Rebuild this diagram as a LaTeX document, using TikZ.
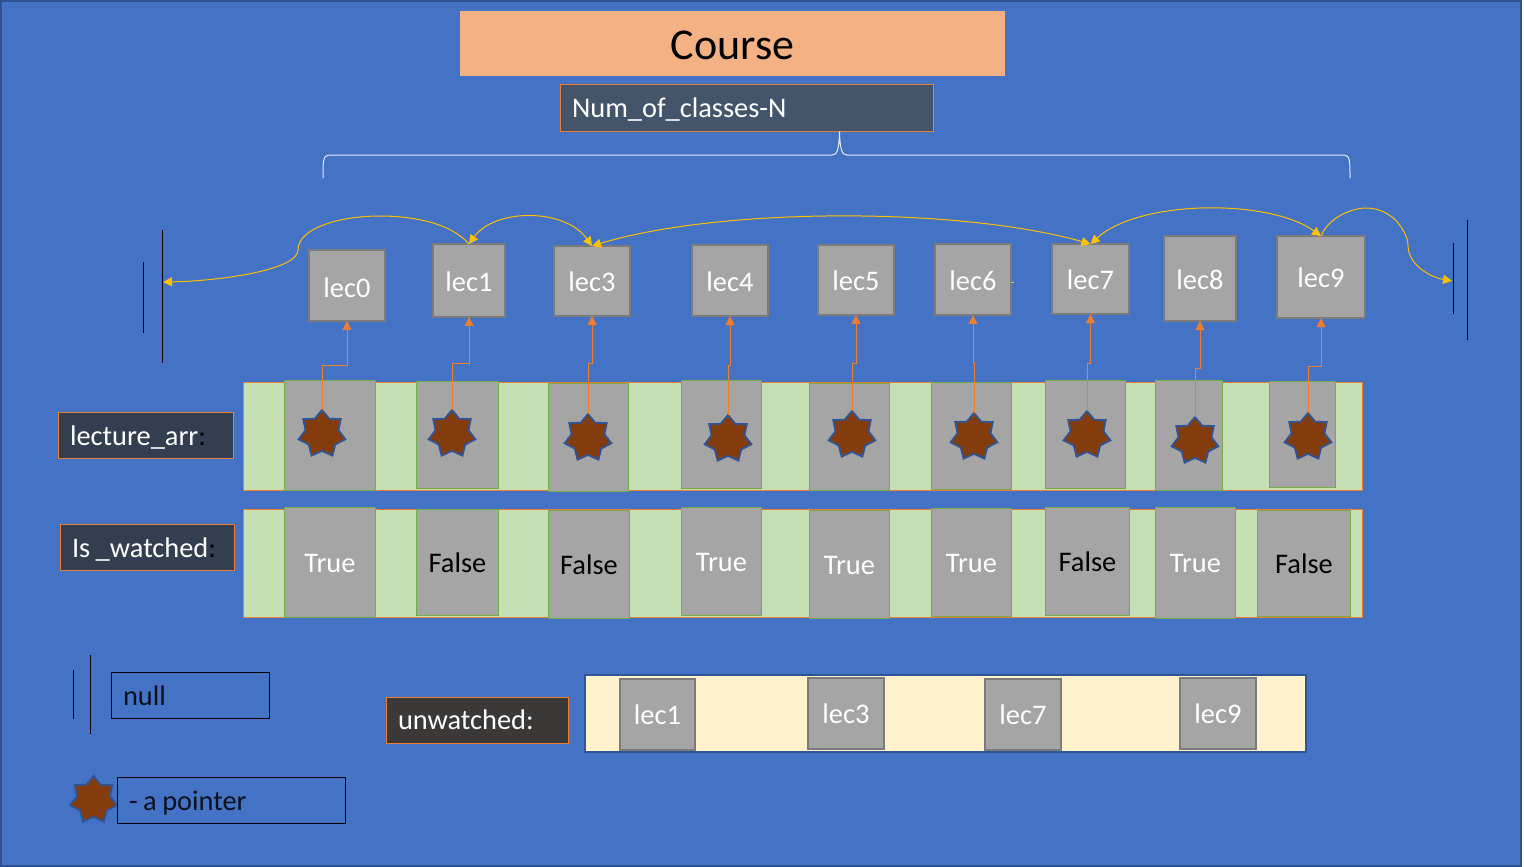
\documentclass[tikz,border=0pt]{standalone}
\usepackage{fontspec}
\setmainfont{Carlito}
\usetikzlibrary{arrows.meta,shapes.geometric}
\definecolor{bgblue}{HTML}{4472C4}
\definecolor{frameblue}{HTML}{2F528F}
\definecolor{starblue}{HTML}{2F5597}
\definecolor{peach}{HTML}{F4B183}
\definecolor{slatebox}{HTML}{44546A}
\definecolor{navybox}{HTML}{333F50}
\definecolor{charcoal}{HTML}{3B3838}
\definecolor{orangeline}{HTML}{ED7D31}
\definecolor{goldline}{HTML}{FFC000}
\definecolor{greenline}{HTML}{70AD47}
\definecolor{lightgreen}{HTML}{C5E0B4}
\definecolor{midgray}{HTML}{A5A5A5}
\definecolor{graybord}{HTML}{7B7B7B}
\definecolor{cream}{HTML}{FFF2CC}
\definecolor{starbrown}{HTML}{843C0C}
\definecolor{bracewhite}{HTML}{E7ECF5}
\newcommand{\tightsp}{\spaceskip=5.5pt\relax}
\newcommand{\rc}[7]{%
  \pgfmathsetmacro\rcW{#3-#2}\pgfmathsetmacro\rcH{#5-#4}%
  \pgfmathsetmacro\rcX{(#3+#2)/2}\pgfmathsetmacro\rcY{(#5+#4)/2}%
  \node[#6,minimum width=\rcW pt,minimum height=\rcH pt] (#1) at (\rcX,\rcY) {#7};}
\newcommand{\rcl}[7]{%
  \pgfmathsetmacro\rcW{#3-#2}\pgfmathsetmacro\rcH{#5-#4}%
  \pgfmathsetmacro\rcX{(#3+#2)/2}\pgfmathsetmacro\rcY{(#5+#4)/2}%
  \pgfmathsetmacro\rcT{#3-#2-23}%
  \node[#6,minimum width=\rcW pt,minimum height=\rcH pt,text width=\rcT pt,align=left,inner xsep=11.5pt] (#1) at (\rcX,\rcY) {#7};}
\tikzset{
  every node/.style={inner sep=0pt,outer sep=0pt,font=\fontsize{28.4}{30}\selectfont,text height=21pt,text depth=2pt},
  lecbox/.style={draw=graybord,line width=2pt,fill=midgray,text=white,text height=23pt},
  crisp/.style={xshift=0.5pt,yshift=-0.5pt},
  cell/.style={crisp,draw=greenline,line width=1pt,fill=midgray},
  band/.style={crisp,draw=orangeline,line width=1pt,fill=lightgreen},
  tag/.style={crisp,draw=orangeline,line width=1pt,text=white},
  legend/.style={crisp,draw=black,line width=1pt,text=black!85!bgblue},
  ptrstar/.style={star,star points=7,star point ratio=1.42,minimum size=48pt,text height=0pt,text depth=0pt,fill=starbrown,draw=starblue,line width=1.8pt},
  ptr/.style={draw=orangeline,line width=0.9pt,-{Triangle[length=9pt,width=9pt,fill=orangeline]}},
  nextp/.style={draw=goldline,line width=1pt,-{Triangle[length=9pt,width=9pt,fill=goldline]}},
  both/.style={draw=goldline,line width=1pt,{Triangle[length=9pt,width=9pt,fill=goldline]}-{Triangle[length=9pt,width=9pt,fill=goldline]}},
  nullbar/.style={draw=black,line width=1pt},
  brace/.style={draw=bracewhite,line width=1pt}
}
\begin{document}
\begin{tikzpicture}[x=1pt,y=-1pt]
\useasboundingbox (0,0) rectangle (1524,867);
\fill[white] (0,0) rectangle (1524,867);
\draw[fill=bgblue,draw=frameblue,line width=2pt] (1,1) rectangle (1521,866);
% title
\rc{course}{460}{1005}{11}{76}{fill=peach,text=black,font=\fontsize{44}{46}\selectfont,text height=34pt,text depth=2pt}{Course}
\rcl{num}{560}{933}{84}{131}{tag,fill=slatebox}{Num\_of\_classes-N}
% brace
\coordinate (bl) at (323,178);
\coordinate (br) at (1350,178);
\draw[brace] (bl) .. controls (323,162) and (323,155) .. (329,155) -- (832,155) .. controls (837,155) and (839,150) .. (num.south -| 839.5,0) .. controls (840,150) and (842,155) .. (847,155) -- (1344,155) .. controls (1350,155) and (1350,162) .. (br);
% lecture nodes
\rc{l0}{309}{385}{250}{321}{lecbox,text height=25pt}{lec0}
\rc{l1}{433}{505}{244}{317}{lecbox}{lec1}
\rc{l3}{554}{630}{246}{316}{lecbox}{lec3}
\rc{l4}{692}{768}{245}{316}{lecbox}{lec4}
\rc{l5}{818}{894}{245}{315}{lecbox}{lec5}
\rc{l6}{935}{1011}{244}{315}{lecbox}{lec6}
\rc{l7}{1052}{1129}{244}{314}{lecbox}{lec7}
\rc{l8}{1164}{1236}{236}{321}{lecbox}{lec8}
\rc{l9}{1277}{1365}{236}{318}{lecbox}{lec9}
% null bars
\coordinate (nla) at (162.5,230); \coordinate (nlb) at (162.5,363);
\coordinate (nlc) at (143.5,262); \coordinate (nld) at (143.5,333);
\coordinate (nra) at (1467.5,220); \coordinate (nrb) at (1467.5,340);
\coordinate (nrc) at (1453.5,243); \coordinate (nrd) at (1453.5,314);
\draw[nullbar] (nla) -- (nlb);
\draw[nullbar] (nlc) -- (nld);
\draw[nullbar] (nra) -- (nrb);
\draw[nullbar] (nrc) -- (nrd);
\coordinate (endl) at (163,282);
\coordinate (endr) at (1452,281);
% bands
\rc{band1}{243}{1362}{382}{490}{band}{}
\rc{band2}{243}{1362}{509}{617}{band}{}
% first row cells
\rc{a0}{284}{375}{380}{490}{cell}{}
\rc{a1}{416}{498}{381}{488}{cell}{}
\rc{a2}{548}{628}{383}{491}{cell}{}
\rc{a3}{681}{761}{380}{488}{cell}{}
\rc{a4}{809}{889}{383}{490}{cell}{}
\rc{a5}{931}{1011}{382}{489}{cell}{}
\rc{a6}{1045}{1125}{380}{488}{cell}{}
\rc{a7}{1155}{1222}{380}{490}{cell}{}
\rc{a8}{1269}{1335}{381}{487}{cell}{}
% second row cells
\rc{b0}{284}{375}{507}{617}{cell,text=white}{True}
\rc{b1}{416}{498}{509}{615}{cell,text=black}{False}
\rc{b2}{548}{629}{510}{618}{cell,text=black}{False}
\rc{b3}{681}{761}{507}{615}{cell,text=white}{True}
\rc{b4}{809}{889}{510}{618}{cell,text=white}{True}
\rc{b5}{931}{1011}{508}{616}{cell,text=white}{True}
\rc{b6}{1045}{1129}{507}{615}{cell,text=black}{False}
\rc{b7}{1155}{1235}{507}{618}{cell,text=white}{True}
\rc{b8}{1257}{1350}{510}{616}{cell,text=black}{False}
% stars
\node[ptrstar] (s0) at (322,434) {};
\node[ptrstar] (s1) at (452,434) {};
\node[ptrstar] (s2) at (588,438) {};
\node[ptrstar] (s3) at (728,439) {};
\node[ptrstar] (s4) at (852,435) {};
\node[ptrstar] (s5) at (974,437) {};
\node[ptrstar] (s6) at (1087,435) {};
\node[ptrstar] (s7) at (1195,441) {};
\node[ptrstar] (s8) at (1308,437) {};
% pointers
\draw[ptr] (s0.north) |- (l0.south |- 0,365) -- (l0.south);
\draw[ptr] (s1.north) |- (l1.south |- 0,363) -- (l1.south);
\draw[ptr] (s2.north) |- (l3.south |- 0,363) -- (l3.south);
\draw[ptr] (s3.north) |- (l4.south |- 0,365) -- (l4.south);
\draw[ptr] (s4.north) |- (l5.south |- 0,363) -- (l5.south);
\draw[ptr] (s5.north) |- (l6.south |- 0,362) -- (l6.south);
\draw[ptr] (s6.north) |- (l7.south |- 0,363) -- (l7.south);
\draw[ptr] (s7.north) |- (l8.south |- 0,368) -- (l8.south);
\draw[ptr] (s8.north) |- (l9.south |- 0,366) -- (l9.south);
% next links
\draw[nextp] (l1.north) .. controls (450,222) and (410,216) .. (380,216) .. controls (340,216) and (298,228) .. (298,250) .. controls (298,270) and (220,281) .. (endl);
\draw[both] (l1.north) .. controls (495,208) and (565,208) .. (l3.north);
\draw[both] (l3.north) .. controls (720,207) and (960,207) .. (l7.north);
\draw[both] (l7.north) .. controls (1140,199) and (1270,199) .. (l9.north);
\draw[nextp] (l9.north) .. controls (1330,215) and (1355,208) .. (1366,208) .. controls (1395,208) and (1408,235) .. (1408,245) .. controls (1408,265) and (1430,277) .. (endr);
\draw[goldline,line width=1pt] (l6.east |- 0,282) -- ++(3,0);
% row tags
\rcl{lectag}{58}{233}{412}{458}{tag,fill=navybox}{lecture\_arr{\color{black}:}}
\rcl{wattag}{60}{234}{524}{570}{tag,fill=navybox}{\tightsp Is \_watched{\color{black}:}}
% legend
\coordinate (lga) at (90.5,655); \coordinate (lgb) at (90.5,734);
\coordinate (lgc) at (73.5,670); \coordinate (lgd) at (73.5,719);
\draw[nullbar] (lga) -- (lgb);
\draw[nullbar] (lgc) -- (lgd);
\rcl{nullbox}{111}{269}{672}{718}{legend}{null}
\node[ptrstar] (lgs) at (93.5,800) {};
\rcl{ptrbox}{117}{345}{777}{823}{legend}{\tightsp - a pointer}
% unwatched
\rcl{untag}{386}{568}{697}{743}{tag,fill=charcoal,text height=19pt}{unwatched:}
\rc{unband}{585}{1306}{675}{752}{fill=cream,draw=starblue,line width=2pt}{}
\rc{u1}{620}{695}{679}{750}{lecbox,text height=21pt}{lec1}
\rc{u3}{808}{884}{678}{749}{lecbox,text height=21pt}{lec3}
\rc{u7}{985}{1061}{679}{750}{lecbox,text height=21pt}{lec7}
\rc{u9}{1180}{1256}{678}{749}{lecbox,text height=21pt}{lec9}
\end{tikzpicture}
\end{document}
